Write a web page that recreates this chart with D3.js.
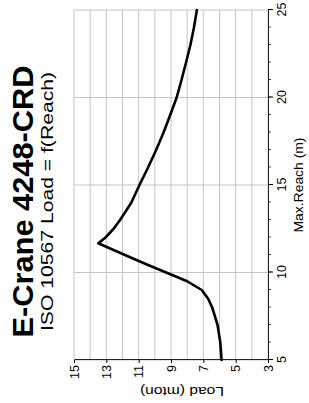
<!DOCTYPE html>
<html>
<head>
<meta charset="utf-8">
<script src="https://cdn.jsdelivr.net/npm/d3@7"></script>
<style>
  body { margin: 0; background: #fff; }
  text { font-family: "Liberation Sans", Arial, sans-serif; fill: #000; }
</style>
</head>
<body>
<script>
// data: load (mton) against max reach (m)
var reach = [5, 6, 7, 8, 8.5, 9, 9.5, 10, 10.5, 11, 11.67, 12, 12.5, 13, 13.5, 14, 15, 16, 17, 18, 19, 20, 21, 22, 23, 24, 25];
var load  = [5.87, 5.95, 6.12, 6.45, 6.7, 7.1, 8.0, 9.3, 10.6, 11.85, 13.5, 13.05, 12.55, 12.15, 11.8, 11.45, 10.95, 10.42, 9.92, 9.46, 9.05, 8.65, 8.35, 8.07, 7.8, 7.58, 7.4];

var reachTicks = [5, 10, 15, 20, 25];
var loadTicks = [3, 5, 7, 9, 11, 13, 15];
var title = "E-Crane 4248-CRD";
var subtitle = "ISO 10567 Load = f(Reach)";

// chart is drawn in a 403x309 frame, then turned a quarter left
var W = 403, H = 309;
var margin = {top: 74, right: 10, bottom: 41, left: 43};

var x = d3.scaleLinear().domain([5, 25]).range([margin.left, W - margin.right]),
    y = d3.scaleLinear().domain([3, 15]).range([H - margin.bottom, margin.top]);

var svg = d3.select("body").append("svg")
    .attr("width", 309)
    .attr("height", 403);

var g = svg.append("g")
    .attr("transform", "translate(0," + W + ") rotate(-90)");

// grid
g.append("g").selectAll("line")
  .data(d3.range(3, 16))
  .enter().append("line")
  .attr("x1", x(5)).attr("x2", x(25))
  .attr("y1", d => y(d)).attr("y2", d => y(d))
  .attr("stroke", "#c4c4c4").attr("stroke-width", 1);

g.append("g").selectAll("line")
  .data(reachTicks)
  .enter().append("line")
  .attr("x1", d => x(d)).attr("x2", d => x(d))
  .attr("y1", y(3)).attr("y2", y(15))
  .attr("stroke", "#c4c4c4").attr("stroke-width", 1);

// reach axis (minor + major)
g.append("g")
  .attr("transform", "translate(0," + y(3) + ")")
  .call(d3.axisBottom(x).tickValues(d3.range(5, 26)).tickSize(3).tickSizeOuter(0).tickFormat(""))
  .call(a => a.select(".domain").attr("stroke", "#222"))
  .call(a => a.selectAll(".tick line").attr("stroke", "#444"));

var axX = g.append("g")
  .attr("transform", "translate(0," + y(3) + ")")
  .call(d3.axisBottom(x).tickValues(reachTicks).tickSize(5).tickSizeOuter(0).tickPadding(4.5));
axX.selectAll("text").style("font-size", "12.5px").attr("fill", "#000");
axX.select(".domain").attr("stroke", "#222");

var axY = g.append("g")
  .attr("transform", "translate(" + x(5) + ",0)")
  .call(d3.axisLeft(y).tickValues(loadTicks).tickSize(3).tickSizeOuter(0).tickPadding(2));
axY.selectAll("text").style("font-size", "12.5px").attr("fill", "#000");
axY.select(".domain").attr("stroke", "#222");

// axis titles
g.append("text")
  .attr("x", (x(5) + x(25)) / 2)
  .attr("y", 303)
  .attr("text-anchor", "middle")
  .attr("textLength", 95)
  .attr("lengthAdjust", "spacingAndGlyphs")
  .style("font-size", "13.5px")
  .text("Max.Reach (m)");

g.append("text")
  .attr("transform", "translate(16,182) rotate(-90)")
  .attr("text-anchor", "middle")
  .attr("textLength", 84)
  .attr("lengthAdjust", "spacingAndGlyphs")
  .style("font-size", "13px")
  .text("Load (mton)");

// titles
g.append("text")
  .attr("x", W / 2).attr("y", 33)
  .attr("text-anchor", "middle")
  .attr("textLength", 272)
  .attr("lengthAdjust", "spacingAndGlyphs")
  .style("font-size", "30px").style("font-weight", "bold")
  .text(title);

g.append("text")
  .attr("x", W / 2).attr("y", 53)
  .attr("text-anchor", "middle")
  .attr("textLength", 259)
  .attr("lengthAdjust", "spacingAndGlyphs")
  .style("font-size", "16px")
  .text(subtitle);

// load curve
var pts = reach.map((r, i) => [r, load[i]]);
var line = d3.line()
  .x(d => x(d[0]))
  .y(d => y(d[1]));

g.append("path")
  .datum(pts)
  .attr("d", line)
  .attr("fill", "none")
  .attr("stroke", "#000")
  .attr("stroke-width", 2.6)
  .attr("stroke-linejoin", "round")
  .attr("stroke-linecap", "round");
</script>
</body>
</html>
